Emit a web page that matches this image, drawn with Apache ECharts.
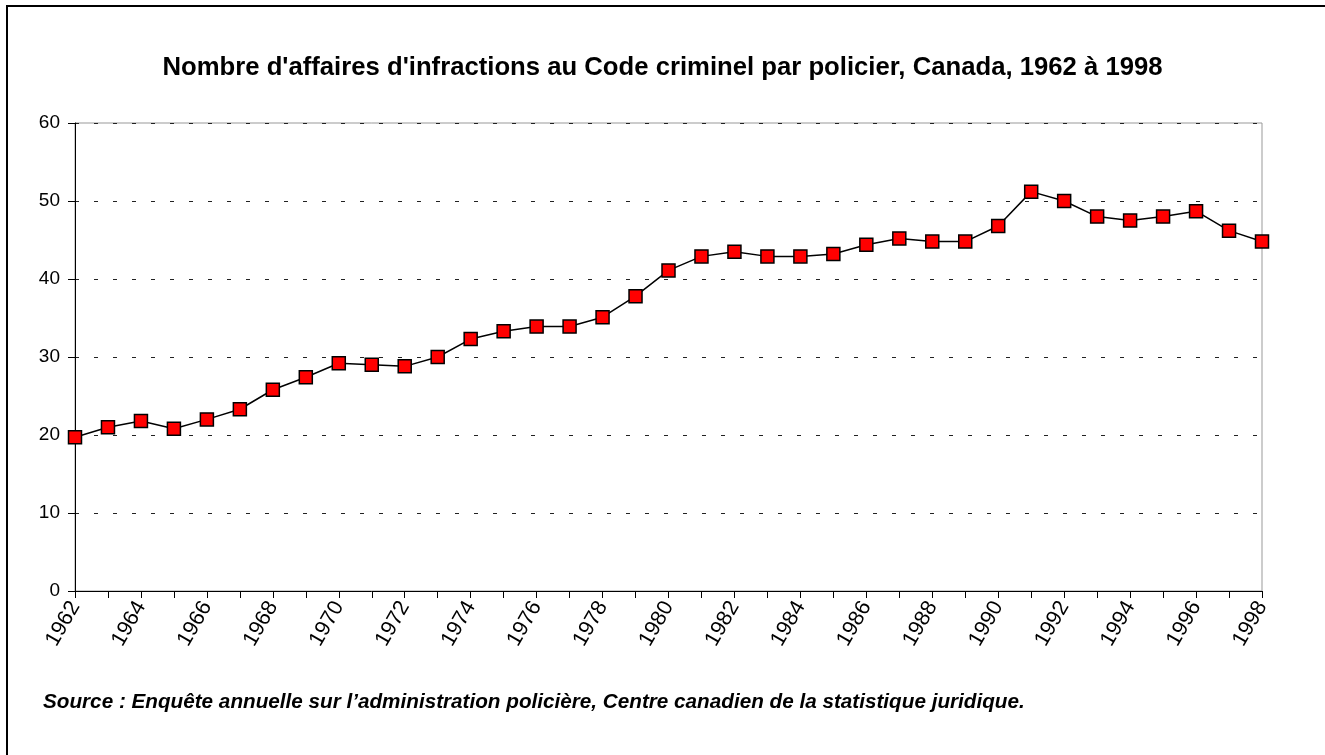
<!DOCTYPE html>
<html>
<head>
<meta charset="utf-8">
<script src="https://cdn.jsdelivr.net/npm/echarts@6/dist/echarts.min.js"></script>
<style>
  html, body { margin: 0; padding: 0; background: #fff; }
  #main { width: 1325px; height: 755px; }
</style>
</head>
<body>
<div id="main"></div>
<script>
// années
var years = ['1962','1963','1964','1965','1966','1967','1968','1969','1970','1971',
  '1972','1973','1974','1975','1976','1977','1978','1979','1980','1981',
  '1982','1983','1984','1985','1986','1987','1988','1989','1990','1991',
  '1992','1993','1994','1995','1996','1997','1998'];

// affaires par policier
var casesPerOfficer = [19.7, 21.0, 21.8, 20.8, 22.0, 23.3, 25.8, 27.4, 29.2, 29.0,
  28.8, 30.0, 32.3, 33.3, 33.9, 33.9, 35.1, 37.8, 41.1, 42.9,
  43.5, 42.9, 42.9, 43.2, 44.4, 45.2, 44.8, 44.8, 46.8, 51.2,
  50.0, 48.0, 47.5, 48.0, 48.7, 46.2, 44.8];

var titleText = "Nombre d'affaires d'infractions au Code criminel par policier, Canada, 1962 à 1998";
var sourceText = 'Source : Enquête annuelle sur l\u2019administration policière, Centre canadien de la statistique juridique.';

var font = '"Liberation Sans", Arial, sans-serif';

var chart = echarts.init(document.getElementById('main'), null, { renderer: 'canvas' });

var option = {
  backgroundColor: '#fff',
  animation: false,
  title: {
    text: titleText,
    left: 'center',
    top: 50,
    textStyle: { fontFamily: font, fontSize: 25.7, fontWeight: 'bold', color: '#000' }
  },
  grid: {
    left: 75, right: 63, top: 123, bottom: 164,
    show: true,
    borderColor: '#999',
    borderWidth: 1
  },
  xAxis: {
    type: 'category',
    data: years,
    boundaryGap: false,
    axisLine: { lineStyle: { color: '#000', width: 1 } },
    axisTick: { interval: 0, length: 7, lineStyle: { color: '#000' } },
    axisLabel: {
      interval: 1,
      rotate: 60,
      margin: 12,
      fontFamily: font,
      fontSize: 21.5,
      color: '#000'
    },
    splitLine: { show: false }
  },
  yAxis: {
    type: 'value',
    min: 0, max: 60, interval: 10,
    axisLine: { show: true, lineStyle: { color: '#000', width: 1 } },
    axisTick: { show: true, length: 7, lineStyle: { color: '#000' } },
    axisLabel: { margin: 15, fontFamily: font, fontSize: 19, color: '#000' },
    splitLine: { lineStyle: { color: '#222', type: [4, 15], width: 1 } }
  },
  series: [{
    type: 'line',
    data: casesPerOfficer,
    symbol: 'rect',
    symbolSize: 13,
    lineStyle: { color: '#000', width: 1.5 },
    itemStyle: { color: '#ff0000', borderColor: '#000', borderWidth: 1.5 }
  }],
  graphic: [
    {
      type: 'rect',
      shape: { x: 7, y: 6, width: 1340, height: 780 },
      style: { fill: null, stroke: '#000', lineWidth: 2 },
      silent: true
    },
    {
      type: 'text',
      left: 43,
      top: 692,
      style: {
        text: sourceText,
        font: 'italic bold 20.7px ' + font,
        fill: '#000'
      }
    }
  ]
};

chart.setOption(option);
</script>
</body>
</html>
